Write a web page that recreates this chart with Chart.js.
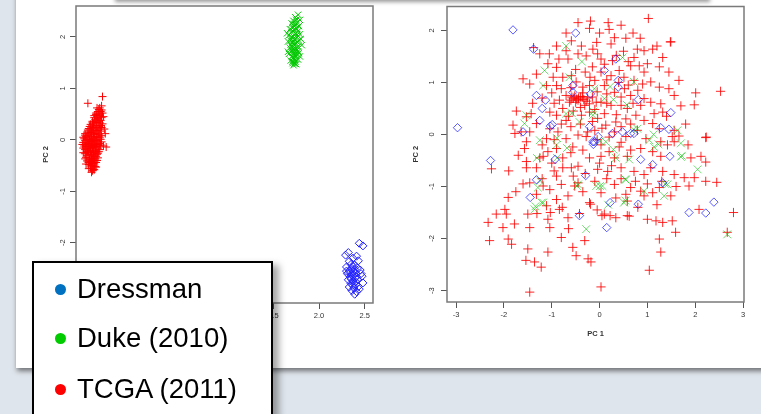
<!DOCTYPE html>
<html>
<head>
<meta charset="utf-8">
<script src="https://cdn.jsdelivr.net/npm/chart.js@4.4.1/dist/chart.umd.min.js"></script>
<style>
  html, body { margin: 0; padding: 0; width: 761px; height: 414px; overflow: hidden; background: #dfe5ec; }
  #panel { position: absolute; left: 16px; top: -10px; width: 780px; height: 378px; background: #fff;
           box-shadow: 1px 3px 5px rgba(0,0,0,0.5); }
  #topShade { position: absolute; left: 115px; top: -30px; width: 595px; height: 30px; background: #fff;
              box-shadow: 0 2px 4px rgba(0,0,0,0.4); }
  canvas { position: absolute; top: 0; filter: blur(0.35px); }
  #pcaLeft { left: 20px; }
  #pcaRight { left: 380px; }
  #legend { position: absolute; left: 32px; top: 261px; width: 237px; height: 170px; background: #fff;
            border: 2px solid #000; box-shadow: 6px 4px 7px rgba(0,0,0,0.35);
            font-family: "Liberation Sans", Arial, sans-serif; font-size: 27.5px; color: #000; }
  .row { position: absolute; left: 43px; line-height: 27.5px; white-space: nowrap; }
  .dot { position: absolute; left: 21px; width: 11px; height: 11px; border-radius: 50%; }
</style>
</head>
<body>
<div id="panel"></div>
<div id="topShade"></div>
<canvas id="pcaLeft" width="360" height="340"></canvas>
<canvas id="pcaRight" width="381" height="340"></canvas>
<div id="legend">
  <div class="dot" style="top:21px;background:#0070c0"></div><div class="row" style="top:12px">Dressman</div>
  <div class="dot" style="top:70px;background:#00cc00"></div><div class="row" style="top:61px">Duke (2010)</div>
  <div class="dot" style="top:121px;background:#ff0000"></div><div class="row" style="top:112px">TCGA (2011)</div>
</div>
<script>
// ---- series names ----
const seriesNames = ['Dressman', 'Duke (2010)', 'TCGA (2011)'];

// ---- axis ticks ----
const leftXTicks = [-0.5, 0, 0.5, 1, 1.5, 2, 2.5];
const leftYTicks = [-3, -2, -1, 0, 1, 2];
const rightXTicks = [-3, -2, -1, 0, 1, 2, 3];
const rightYTicks = [-3, -2, -1, 0, 1, 2];

// ---- left panel: PC1 vs PC2 before batch correction ----
const tcgaLeft = [
  [-0.53,0.71],[-0.37,0.84],[-0.34,0.12],[-0.33,-0.14],[-0.36,-0.12],
  [-0.40,0.62],[-0.38,0.58],[-0.42,0.55],[-0.37,0.52],[-0.44,0.49],[-0.40,0.47],[-0.36,0.45],
  [-0.46,0.43],[-0.42,0.41],[-0.39,0.38],[-0.48,0.36],[-0.44,0.34],[-0.40,0.33],[-0.37,0.31],
  [-0.50,0.30],[-0.46,0.28],[-0.43,0.27],[-0.41,0.25],[-0.38,0.24],[-0.52,0.22],[-0.48,0.21],
  [-0.45,0.19],[-0.42,0.18],[-0.39,0.17],[-0.54,0.15],[-0.50,0.14],[-0.47,0.13],[-0.44,0.12],[-0.41,0.11],
  [-0.56,0.09],[-0.52,0.08],[-0.49,0.07],[-0.46,0.06],[-0.43,0.05],[-0.40,0.04],
  [-0.57,0.02],[-0.54,0.01],[-0.51,0.00],[-0.48,-0.01],[-0.45,0.00],[-0.42,-0.02],[-0.39,0.01],
  [-0.58,-0.05],[-0.55,-0.06],[-0.52,-0.07],[-0.49,-0.08],[-0.46,-0.06],[-0.43,-0.09],[-0.40,-0.07],
  [-0.57,-0.12],[-0.54,-0.13],[-0.51,-0.14],[-0.48,-0.15],[-0.45,-0.13],[-0.42,-0.16],
  [-0.56,-0.19],[-0.53,-0.20],[-0.50,-0.21],[-0.47,-0.22],[-0.44,-0.20],[-0.41,-0.23],
  [-0.56,-0.27],[-0.52,-0.28],[-0.49,-0.29],[-0.46,-0.30],[-0.43,-0.28],
  [-0.55,-0.34],[-0.51,-0.35],[-0.48,-0.36],[-0.45,-0.37],[-0.42,-0.35],
  [-0.54,-0.41],[-0.50,-0.42],[-0.47,-0.43],[-0.44,-0.44],
  [-0.52,-0.48],[-0.49,-0.50],[-0.46,-0.49],[-0.50,-0.55],[-0.47,-0.57],[-0.48,-0.60],
  [-0.43,0.46],[-0.45,0.39],[-0.41,0.35],[-0.47,0.31],[-0.44,0.23],[-0.49,0.17],[-0.46,0.10],
  [-0.53,0.04],[-0.50,-0.03],[-0.47,-0.11],[-0.53,-0.10],[-0.50,-0.17],[-0.45,-0.25],[-0.53,-0.24],
  [-0.47,-0.33],[-0.51,-0.39],[-0.46,-0.40],[-0.48,-0.46],[-0.44,-0.53],[-0.55,-0.16],[-0.59,-0.09],
  [-0.58,0.05],[-0.39,0.28],[-0.41,0.50],[-0.38,0.66],[-0.43,0.62],[-0.56,0.12],[-0.35,0.21],
  [-0.44,-0.04],[-0.41,-0.12],
  [-0.39,0.55],[-0.41,0.59],[-0.44,0.52],[-0.46,0.47],[-0.38,0.43],[-0.43,0.37],[-0.48,0.33],[-0.51,0.26],
  [-0.40,0.21],[-0.47,0.24],[-0.53,0.19],[-0.43,0.15],[-0.51,0.11],[-0.38,0.08],[-0.55,0.06],[-0.47,0.03],
  [-0.41,0.07],[-0.56,-0.01],[-0.44,-0.01],[-0.38,-0.04],[-0.51,-0.04],[-0.56,-0.09],[-0.46,-0.09],[-0.39,-0.10],
  [-0.52,-0.12],[-0.44,-0.14],[-0.58,-0.16],[-0.48,-0.18],[-0.40,-0.19],[-0.54,-0.23],[-0.45,-0.22],[-0.58,-0.25],
  [-0.50,-0.25],[-0.42,-0.26],[-0.54,-0.31],[-0.47,-0.27],[-0.44,-0.32],[-0.56,-0.37],[-0.49,-0.39],[-0.43,-0.40],
  [-0.52,-0.44],[-0.46,-0.45],[-0.55,-0.47],[-0.50,-0.51],[-0.45,-0.52],[-0.52,-0.56],[-0.46,-0.58],[-0.49,-0.63]
];
const dukeLeft = [
  [1.77,2.43],[1.74,2.38],[1.79,2.33],[1.72,2.31],[1.76,2.28],[1.70,2.26],[1.74,2.24],[1.78,2.21],
  [1.71,2.19],[1.75,2.17],[1.68,2.15],[1.73,2.13],[1.77,2.11],[1.70,2.09],[1.74,2.07],[1.79,2.05],
  [1.67,2.03],[1.72,2.01],[1.76,1.99],[1.69,1.97],[1.73,1.95],[1.78,1.93],[1.66,1.91],[1.71,1.89],
  [1.75,1.87],[1.69,1.85],[1.73,1.83],[1.77,1.81],[1.68,1.79],[1.72,1.77],[1.76,1.75],[1.70,1.73],
  [1.74,1.71],[1.78,1.69],[1.67,1.67],[1.72,1.65],[1.75,1.63],[1.70,1.61],[1.73,1.58],[1.77,1.56],
  [1.69,1.54],[1.74,1.52],[1.71,1.49],[1.75,1.47],[1.72,1.45],[1.65,2.07],[1.80,1.96],[1.81,1.84],
  [1.66,1.71],[1.79,1.62],
  [1.73,2.20],[1.71,2.12],[1.76,2.04],[1.70,2.00],[1.74,1.96],[1.71,1.92],[1.76,1.90],[1.72,1.86],
  [1.70,1.81],[1.74,1.78],[1.73,1.74],[1.71,1.69],[1.75,1.67],[1.72,1.60],[1.74,1.55],[1.71,1.52],
  [1.73,1.48],[1.76,2.15],[1.72,2.25],[1.75,2.33],[1.69,1.93],[1.77,1.72]
];
const dressmanLeft = [
  [2.44,-2.01],[2.48,-2.06],[2.32,-2.19],[2.41,-2.26],[2.29,-2.24],[2.37,-2.30],[2.33,-2.36],[2.43,-2.35],
  [2.35,-2.42],[2.39,-2.44],[2.30,-2.47],[2.36,-2.50],[2.42,-2.49],[2.33,-2.54],[2.38,-2.56],[2.45,-2.53],
  [2.31,-2.60],[2.36,-2.62],[2.40,-2.59],[2.34,-2.66],[2.39,-2.68],[2.47,-2.65],[2.32,-2.72],[2.37,-2.74],
  [2.42,-2.71],[2.35,-2.79],[2.40,-2.81],[2.48,-2.78],[2.33,-2.86],[2.38,-2.88],[2.43,-2.85],[2.36,-2.93],
  [2.41,-2.95],[2.39,-3.00],[2.44,-2.90],[2.30,-2.55],[2.46,-2.60],[2.35,-2.70],[2.40,-2.76],[2.37,-2.46],
  [2.38,-2.62],[2.34,-2.58],[2.41,-2.66],[2.37,-2.83],[2.39,-2.52]
];

// ---- right panel: PC1 vs PC2 after batch correction ----
const tcgaRight = [
  [-0.45,2.15],[-0.19,2.18],[-0.21,2.04],[-0.59,1.80],[-0.38,1.70],[-1.38,1.67],[-1.25,1.55],[-0.70,1.61],
  [-0.66,1.45],[-0.45,1.55],[-0.28,1.51],[-0.14,1.64],[-0.90,1.29],[-1.08,1.36],[-1.32,1.16],[-0.97,1.10],
  [-0.77,1.10],[-0.59,1.13],[-1.60,1.07],[-1.46,0.97],[-1.11,0.94],[-0.90,0.94],[-0.80,0.88],[-0.49,1.01],
  [-0.35,0.91],[-0.21,0.94],[-0.10,1.04],[-0.70,0.75],[-0.84,0.66],[-0.63,0.62],[-0.45,0.66],[-0.31,0.56],
  [-0.21,0.59],[-0.07,0.62],[-1.74,0.45],[-1.43,0.40],[-1.53,0.34],[-1.04,0.43],[-0.90,0.37],[-0.77,0.50],
  [-0.70,0.27],[-0.38,0.37],[-0.21,0.43],[-1.81,0.18],[-1.64,0.05],[-1.77,0.02],[-1.46,0.05],[-1.32,0.21],
  [-1.04,0.11],[-0.87,0.05],[-1.11,-0.08],[-1.53,-0.14],[-1.57,-0.27],[-0.70,-0.08],[-0.45,-0.01],[-0.28,-0.04],
  [-0.10,0.08],[-0.56,-0.24],[-0.90,-0.27],[-1.08,-0.33],
  [1.02,2.23],[0.18,2.15],[0.20,2.02],[-0.06,1.77],[0.31,1.86],[0.24,1.74],[1.48,1.78],[-0.04,1.55],
  [0.79,1.64],[0.93,1.61],[1.11,1.64],[1.32,1.48],[0.03,1.45],[0.27,1.42],[0.72,1.48],[0.65,1.32],
  [0.83,1.32],[1.00,1.36],[0.93,1.20],[0.03,1.20],[0.24,1.13],[0.51,1.10],[0.41,1.23],[1.66,1.04],
  [0.72,1.04],[0.90,0.97],[1.07,1.01],[1.25,0.91],[2.01,0.80],[2.53,0.83],[1.98,0.57],[1.45,0.88],
  [1.56,0.75],[0.10,0.94],[0.31,0.81],[0.52,0.88],[0.65,0.75],[0.93,0.69],[1.07,0.62],[1.28,0.59],
  [1.32,0.43],[1.14,0.40],[0.86,0.56],[0.03,0.62],[0.24,0.56],[0.45,0.56],[0.58,0.50],[0.76,0.37],
  [0.93,0.27],[1.11,0.21],[1.25,0.11],[1.56,0.08],[1.52,-0.04],[1.66,-0.03],[2.22,-0.06],[-0.04,0.31],
  [0.13,0.18],[0.34,0.24],[0.31,0.05],[0.55,-0.04],[0.79,0.08],[0.97,-0.08],[1.28,-0.14],[1.42,-0.20],
  [1.56,-0.14],[0.86,-0.27],[1.11,-0.33],[0.03,-0.20],[0.20,-0.33],[0.41,-0.24],
  [-2.26,-0.66],[-1.53,-0.52],[-1.53,-0.64],[-1.18,-0.42],[-1.32,-0.64],[-1.46,-0.93],[-1.18,-0.99],[-1.04,-1.06],
  [-0.90,-0.80],[-0.77,-0.64],[-0.80,-0.96],[-0.59,-0.64],[-0.45,-0.61],[-0.52,-0.99],[-0.66,-1.18],[-0.90,-1.25],
  [-1.11,-1.37],[-0.84,-1.44],[-0.45,-0.93],[-0.21,-1.31],[-0.21,-0.45],[-0.77,-0.45],[-1.91,-1.21],[-1.98,-1.44],
  [-2.16,-1.53],[-1.95,-1.53],[-1.50,-1.53],[-1.78,-1.72],[-2.02,-1.79],[-2.33,-1.69],[-2.30,-2.04],[-1.91,-2.01],
  [-1.84,-2.11],[-1.46,-1.79],[-1.08,-1.63],[-1.04,-1.79],[-0.66,-1.60],[-0.80,-1.98],[-1.50,-2.20],[-1.08,-2.26],
  [-0.56,-2.17],[-0.49,-2.33],[-0.31,-2.04],[-0.24,-2.39],[-1.54,-2.42],[-1.36,-2.45],[-1.22,-2.55],[-1.46,-3.03],
  [-1.32,-1.15],[-0.42,-1.52],[-0.78,-1.40],[-0.65,-1.81],[-1.03,-1.50],[-1.31,-1.52],[-0.19,-1.34],[-0.18,-2.45],
  [0.03,-0.42],[0.31,-0.45],[0.58,-0.42],[1.28,-0.42],[1.91,-0.45],[2.12,-0.42],[2.22,-0.53],[-0.04,-0.67],
  [0.17,-0.71],[0.45,-0.64],[0.72,-0.71],[0.93,-0.77],[1.07,-0.64],[1.32,-0.71],[1.56,-0.77],[1.77,-0.83],
  [1.98,-0.83],[2.22,-0.90],[2.45,-0.92],[1.87,-0.99],[0.31,-0.96],[0.65,-1.02],[0.86,-1.09],[1.11,-1.12],
  [1.25,-1.02],[1.49,-1.18],[0.03,-1.12],[0.34,-1.22],[0.58,-1.28],[0.93,-1.18],[0.10,-1.53],[0.34,-1.60],
  [0.62,-1.57],[1.00,-1.63],[1.18,-1.66],[1.32,-1.69],[1.52,-1.66],[1.59,-1.88],[1.25,-2.01],[1.28,-2.26],
  [1.04,-2.61],[0.03,-2.93],[2.80,-1.50],[2.67,-1.88],[2.08,-1.44],[0.05,-1.56],[0.22,-1.56],[0.58,-1.56],
  [-0.55,0.70],[-0.48,0.68],[-0.40,0.72],[-0.33,0.67],[-0.25,0.70],[-0.60,0.66],[-0.52,0.74],[-0.15,0.72],
  [-0.30,1.20],[-0.15,1.30],[0.10,1.35],[0.35,1.52],[0.50,1.60],[0.60,1.40],[-0.50,1.25],[-0.20,1.10],
  [0.15,1.05],[0.40,1.00],[0.60,0.95],[0.80,0.85],[-0.60,0.90],[-0.35,0.80],[-0.05,0.82],[0.15,0.78],
  [0.45,0.72],[0.70,0.60],[-0.95,0.60],[-1.20,0.70],[-1.00,0.80],[-0.55,0.45],[-0.40,0.52],[-0.10,0.48],
  [0.10,0.40],[0.35,0.38],[0.55,0.30],[-0.80,0.20],[-0.60,0.15],[-0.40,0.20],[-0.15,0.25],[0.05,0.12],
  [0.45,0.15],[0.65,0.20],[-1.20,-0.20],[-0.95,-0.10],[-0.60,-0.35],[-0.35,-0.30],[-0.05,-0.10],[0.20,-0.05],
  [0.45,-0.15],[0.65,-0.30],[-1.25,-0.45],[-1.00,-0.55],[-0.55,-0.80],[-0.30,-0.75],[-0.10,-0.90],[0.15,-0.85],
  [0.45,-0.85],[0.75,-0.90],[1.00,-0.95],[1.30,-0.90],[1.60,-1.00],[-0.70,1.95],[-0.90,1.70],[0.45,2.10],
  [0.55,1.85],[0.85,1.85],[1.20,1.70],[1.25,1.30],[1.45,1.20],[1.70,0.55],[1.40,0.35],[1.80,0.20],
  [1.85,-0.20],[-1.40,0.60],[-1.70,-0.40],[-1.90,-0.70],[-1.60,-0.95],[-1.75,-1.10],[-0.95,-0.70],[-1.20,-0.85],
  [0.00,-0.55],[0.25,-0.60],[-0.35,-1.10],[-0.05,-1.45],[0.80,-1.40],[1.20,-1.35],[0.55,-1.15],[-0.65,0.35],
  [-0.25,0.05],[0.15,0.60],[-0.85,1.45],[-1.05,1.55],[0.00,1.95],[0.70,1.95],[2.23,-0.05],[1.49,1.78],
  [-0.44,0.70],[-0.36,0.73],[-0.58,0.72],[-0.28,0.64],[-0.50,0.62]
];
const dukeRight = [
  [-0.70,1.70],[-1.15,1.23],[-1.18,0.94],[-0.63,1.10],[-1.53,0.37],[-1.57,0.21],[-1.25,-0.11],[-0.90,-0.20],
  [-0.70,0.40],[-0.42,0.24],[-0.14,0.37],[0.48,1.48],[0.72,1.01],[-0.11,0.88],[0.10,0.69],[0.79,0.11],
  [0.13,-0.14],[1.04,-0.11],[1.63,0.08],[1.70,-0.17],[1.14,-0.24],[-1.29,-1.02],[-1.18,-1.31],[-1.36,-1.44],
  [-0.45,-0.96],[-0.28,-1.82],[-0.07,-0.99],[0.34,-0.45],[0.62,-0.48],[1.70,-0.43],[2.05,-0.67],[0.55,-0.87],
  [0.06,-0.99],[0.51,-1.31],[0.93,-1.09],[1.35,-1.18],[1.42,-0.96],[2.67,-1.92],[-1.34,-1.38],[-1.21,-1.31],
  [0.18,-1.35],[-0.37,1.40],[0.22,0.92],[-0.58,0.41],[-0.13,0.44],[0.29,0.67],[0.57,0.57],[-0.89,-0.07],
  [-0.68,-0.26],[0.01,-0.13],[0.29,-0.29],[0.71,0.10],[1.13,0.00],[1.23,-0.19],[1.72,-0.41],[-1.24,-0.89],
  [0.01,-0.99],[0.54,-0.86],[1.37,-0.95],[0.54,-1.27],[-0.47,-0.99],[-1.31,-0.45],[-0.89,-0.45]
];
const dressmanRight = [
  [-1.81,2.01],[-2.97,0.13],[-1.38,1.64],[-0.50,1.95],[-0.56,0.94],[-0.56,0.81],[-0.19,0.78],[-1.32,0.75],
  [-1.13,0.66],[-1.20,0.50],[-1.25,0.27],[-0.99,0.19],[-1.60,0.05],[-0.21,0.15],[-0.14,-0.14],[0.34,1.45],
  [0.10,1.23],[0.39,1.04],[0.39,0.91],[0.81,0.67],[1.49,0.42],[1.45,0.10],[1.28,0.13],[0.72,0.02],
  [0.65,0.02],[0.48,0.05],[0.27,0.02],[-0.03,-0.04],[-0.11,-0.14],[-2.28,-0.50],[-0.93,-0.48],[-1.32,-0.87],
  [-1.45,-1.21],[-0.29,-0.79],[-0.42,-1.56],[0.86,-0.48],[1.11,-0.58],[1.47,-0.42],[1.32,-0.93],[0.81,-1.34],
  [0.22,-1.31],[0.15,-1.79],[1.87,-1.50],[2.22,-1.51],[2.39,-1.30],[-1.03,0.16],[-0.13,-0.19]
];

// ---- drawing helpers ----
Chart.defaults.font.family = '"Liberation Sans", Arial, sans-serif';
Chart.defaults.color = '#333';

const toPoints = arr => arr.map(([x, y]) => ({ x, y }));

// Box around the plotting region, R style
const plotFrame = {
  id: 'plotFrame',
  afterDraw(chart, args, opts) {
    const a = chart.chartArea, c = chart.ctx;
    c.save();
    c.strokeStyle = opts.color || '#7a7a7a';
    c.lineWidth = opts.width || 1.5;
    c.strokeRect(a.left, a.top, a.right - a.left, a.bottom - a.top);
    c.restore();
  }
};

function makeScale(axis, cfg) {
  const s = {
    type: 'linear',
    min: cfg.min, max: cfg.max,
    afterBuildTicks: sc => { sc.ticks = cfg.ticks.map(v => ({ value: v })); },
    grid: { display: true, drawOnChartArea: false, drawTicks: true, tickLength: 6, tickColor: '#555', tickWidth: 1 },
    border: { display: false },
    ticks: {
      font: { size: 7.5 }, color: '#333', padding: cfg.tickPad,
      callback: cfg.fmt || (v => String(v))
    },
    title: { display: true, text: cfg.title, font: { size: 7.5, weight: 'bold' }, color: '#333', padding: cfg.titlePad }
  };
  if (axis === 'y') {
    s.ticks.minRotation = 90; s.ticks.maxRotation = 90; s.ticks.crossAlign = 'center';
    s.afterFit = sc => { sc.width = cfg.size; sc.paddingTop = 0; sc.paddingBottom = 0; };
  } else {
    s.ticks.minRotation = 0; s.ticks.maxRotation = 0;
    s.afterFit = sc => { sc.height = cfg.size; sc.paddingLeft = 0; sc.paddingRight = 0; };
  }
  return s;
}

function scatterSet(label, pts, style, color, radius) {
  return {
    label, data: toPoints(pts), pointStyle: style, pointRadius: radius,
    pointBorderColor: color, pointBackgroundColor: 'rgba(0,0,0,0)', pointBorderWidth: 1,
    borderColor: color, backgroundColor: color, showLine: false, clip: false
  };
}

function makeChart(id, datasets, xCfg, yCfg, padding) {
  return new Chart(document.getElementById(id), {
    type: 'scatter',
    data: { datasets },
    options: {
      responsive: false, animation: false, events: [],
      layout: { padding },
      plugins: { legend: { display: false }, tooltip: { enabled: false }, plotFrame: { color: '#7a7a7a', width: 1.5 } },
      scales: { x: makeScale('x', xCfg), y: makeScale('y', yCfg) }
    },
    plugins: [plotFrame]
  });
}

makeChart('pcaLeft',
  [
    scatterSet(seriesNames[2], tcgaLeft, 'cross', '#ff0000', 4),
    scatterSet(seriesNames[1], dukeLeft, 'crossRot', '#00c800', 4.5),
    scatterSet(seriesNames[0], dressmanLeft, 'rectRot', '#2020ff', 4)
  ],
  { min: -0.66, max: 2.59, ticks: leftXTicks, size: 37, tickPad: 2, title: 'PC 1', titlePad: { top: 2, bottom: 1.2 }, fmt: v => v.toFixed(1) },
  { min: -3.17, max: 2.6, ticks: leftYTicks, size: 56, tickPad: 4, title: 'PC 2', titlePad: { top: 21, bottom: 0 } },
  { top: 6, right: 7, bottom: 0, left: 0 }
);

makeChart('pcaRight',
  [
    scatterSet(seriesNames[0], dressmanRight, 'rectRot', 'rgba(20,20,255,0.7)', 4.2),
    scatterSet(seriesNames[1], dukeRight, 'crossRot', 'rgba(0,190,0,0.55)', 5.5),
    scatterSet(seriesNames[2], tcgaRight, 'cross', 'rgba(255,0,0,0.85)', 4.6)
  ],
  { min: -3.19, max: 3.02, ticks: rightXTicks, size: 38, tickPad: 2, title: 'PC 1', titlePad: { top: 2, bottom: 1.2 } },
  { min: -3.22, max: 2.46, ticks: rightYTicks, size: 67, tickPad: 6, title: 'PC 2', titlePad: { top: 31, bottom: 0 } },
  { top: 5, right: 17, bottom: 0, left: 0 }
);
</script>
</body>
</html>
